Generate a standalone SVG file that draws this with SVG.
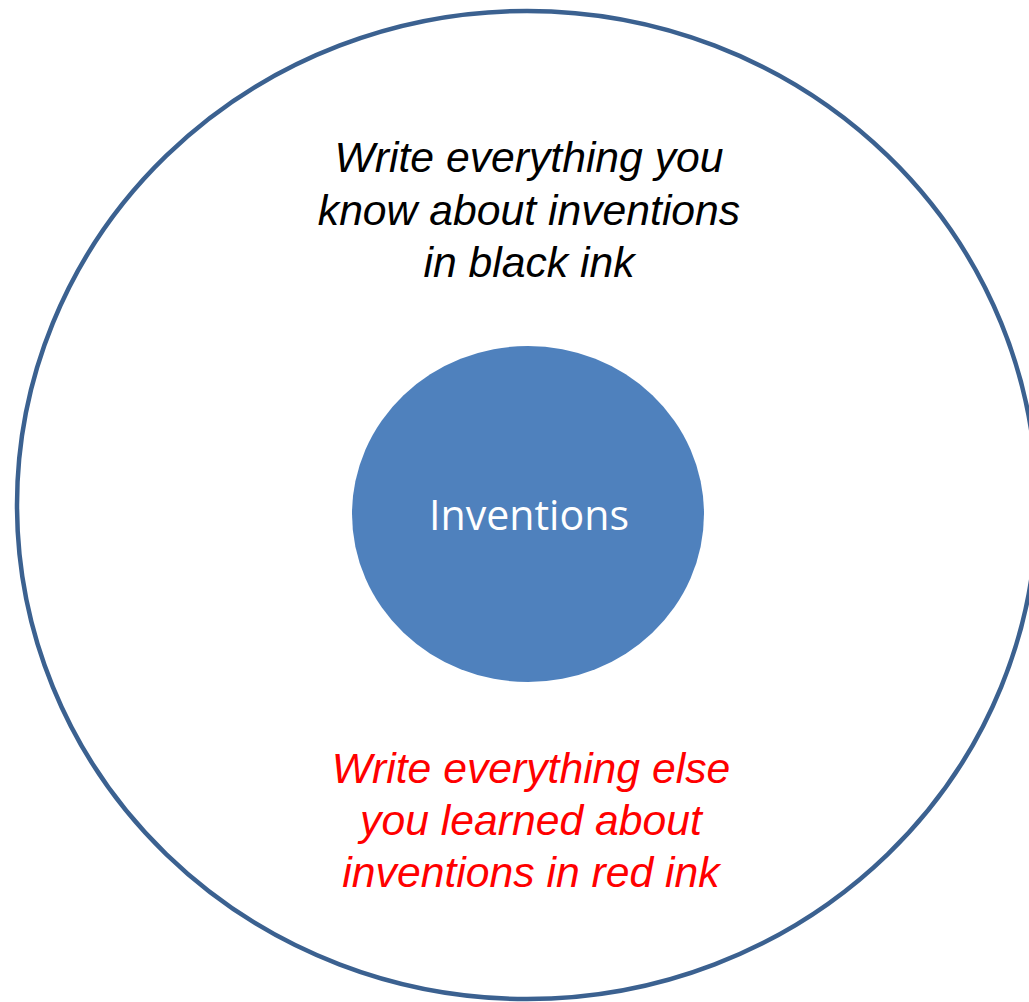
<svg xmlns="http://www.w3.org/2000/svg" width="1029" height="1002" viewBox="0 0 1029 1002">
<style>
.t{font-family:"Liberation Sans",Arial,sans-serif;font-style:italic;font-size:42.7px;text-anchor:middle}
.blk{fill:#000}
.red{fill:#ff0000}
.lbl{font-family:"Open Sans","Noto Sans",sans-serif;font-size:42px;fill:#fff;text-anchor:middle}
</style>
<rect width="1029" height="1002" fill="#fff"/>
<g id="outer">
<ellipse cx="527" cy="505" rx="510" ry="494" fill="none" stroke="#3B6190" stroke-width="4.5"/>
<text class="t blk" x="529" y="172">Write everything you</text>
<text class="t blk" x="529" y="225">know about inventions</text>
<text class="t blk" x="529" y="277">in black ink</text>
<text class="t red" x="531" y="783">Write everything else</text>
<text class="t red" x="531" y="835">you learned about</text>
<text class="t red" x="531" y="887">inventions in red ink</text>
</g>
<g id="inventions">
<ellipse cx="528" cy="514" rx="176" ry="168" fill="#4F81BD"/>
<text class="lbl" x="529" y="530" textLength="200" lengthAdjust="spacingAndGlyphs">Inventions</text>
</g>
<g id="connectors"></g>
</svg>
